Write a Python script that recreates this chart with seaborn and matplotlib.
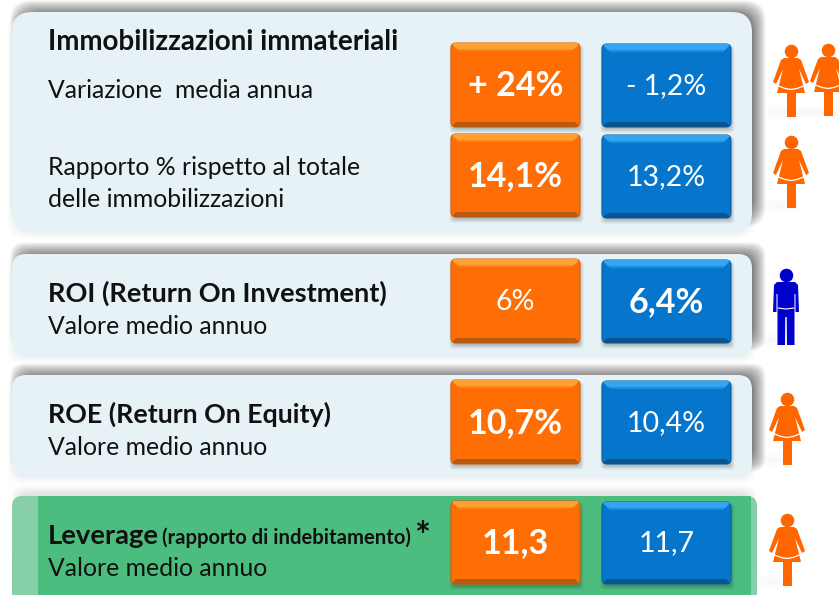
import numpy as np
import matplotlib
matplotlib.use('Agg')
import matplotlib.pyplot as plt
from matplotlib.patches import FancyBboxPatch, Polygon, Rectangle
import seaborn as sns

# Values
row_titles = ['Variazione  media annua', 'Rapporto % rispetto al totale\ndelle immobilizzazioni',
              'Valore medio annuo', 'Valore medio annuo', 'Valore medio annuo']
orange_labels = ['+ 24%', '14,1%', '6%', '10,7%', '11,3']
blue_labels = ['- 1,2%', '13,2%', '6,4%', '10,4%', '11,7']
orange_bold = [True, True, False, True, True]
blue_bold = [False, False, True, False, False]

ORANGE = '#FF6D05'
BLUE = '#0576CB'
PANEL = '#E6F2F5'
GREEN = '#4DBD7F'

sns.set_theme(style='white')
plt.rcParams['font.family'] = ['Lato', 'DejaVu Sans']

fig = plt.figure(figsize=(8.39, 5.95), dpi=100)
ax = fig.add_axes([0, 0, 1, 1])
ax.set_xlim(0, 839)
ax.set_ylim(595, 0)
ax.axis('off')


def soft_shadow(x0, y0, x1, y1, radius, blur=7, strength=0.055, z=1):
    for k in range(blur):
        pad = blur / 2 - k
        ax.add_patch(FancyBboxPatch((x0 - pad, y0 - pad), x1 - x0 + 2 * pad, y1 - y0 + 2 * pad,
                                    boxstyle=f'round,pad=0,rounding_size={radius}',
                                    fc='black', ec='none', alpha=strength, zorder=z))


def panel(x0, y0, x1, y1, radius=14, color=PANEL):
    soft_shadow(x0 + 6, y0 - 4, x1 + 6, y1 - 14, radius, blur=15, strength=0.042)
    soft_shadow(x0 - 2, y0 + 2, x1 + 1, y1 + 3, radius, blur=6, strength=0.008)
    ax.add_patch(FancyBboxPatch((x0, y0), x1 - x0, y1 - y0,
                                boxstyle=f'round,pad=0,rounding_size={radius}',
                                fc=color, ec='none', zorder=2))


def tile(x0, y0, x1, y1, label, bold, base, top, mid, bottom, side):
    soft_shadow(x0 + 1, y0 + 4, x1 + 1, y1 + 3, 4, blur=5, strength=0.05, z=3)
    body = FancyBboxPatch((x0, y0), x1 - x0, y1 - y0, boxstyle='round,pad=0,rounding_size=5',
                          fc=base, ec=side, lw=0.8, zorder=4)
    ax.add_patch(body)
    b = 6
    bevels = [
        Polygon([(x0, y0), (x1, y0), (x1 - b - 2, y0 + b + 2), (x0 + b + 2, y0 + b + 2)], fc=mid, ec='none', zorder=5),
        Polygon([(x0, y0), (x1, y0), (x1 - b, y0 + b), (x0 + b, y0 + b)], fc=top, ec='none', zorder=5),
        Polygon([(x0, y1), (x1, y1), (x1 - 5, y1 - 5), (x0 + 5, y1 - 5)], fc=bottom, ec='none', zorder=5),
    ]
    for bevel in bevels:
        ax.add_patch(bevel)
        bevel.set_clip_path(body)
    ax.text((x0 + x1) / 2, (y0 + y1) / 2 - 2, label, color='white', ha='center', va='center_baseline',
            fontsize=24.5 if bold else 20.5, fontweight='bold' if bold else 'normal', zorder=6)


def woman(cx, top, color='#FF6600'):
    s = lambda pts: [(cx + px, top + py) for px, py in pts]
    sns.scatterplot(x=[cx], y=[top + 6], s=95, color=color, linewidth=0, ax=ax, zorder=7, legend=False)
    # dress and arms
    ax.add_patch(Polygon(s([(-7, 13), (7, 13), (10, 15), (18, 37), (15, 39), (8, 24), (14, 48), (-14, 48), (-8, 24), (-15, 39), (-18, 37), (-10, 15)]),
                         fc=color, ec='none', zorder=7))
    ax.add_patch(Rectangle((cx - 4.5, top + 48), 9, 24, fc=color, ec='none', zorder=7))
    xs = np.array([-12.5, -6, 0, 6, 12.5])
    ys = np.array([41, 43.5, 44.5, 43.5, 41])
    ax.plot(cx + xs, top + ys, color='white', lw=0.9, zorder=8)


def man(cx, top, color='#0000CC'):
    s = lambda pts: [(cx + px, top + py) for px, py in pts]
    sns.scatterplot(x=[cx], y=[top + 6], s=95, color=color, linewidth=0, ax=ax, zorder=7, legend=False)
    ax.add_patch(Polygon(s([(-12, 16), (-9, 13), (9, 13), (12, 16), (13, 43), (9.5, 43), (9.5, 25), (8.5, 25), (8.5, 76), (1, 76), (0.7, 48), (-0.7, 48), (-1, 76), (-8.5, 76), (-8.5, 25), (-9.5, 25), (-9.5, 43), (-13, 43)]),
                         fc=color, ec='none', zorder=7))
    ax.plot([cx - 8, cx, cx + 8], [top + 39, top + 40, top + 39], color='white', lw=0.8, zorder=8)


def feet_shadow(x0, x1, y):
    for k in range(7):
        ax.add_patch(FancyBboxPatch((x0 + k * 2.5, y - 7 + k), x1 - x0 - 3 * k, 14 - 2 * k,
                                    boxstyle='round,pad=0,rounding_size=4',
                                    fc='black', ec='none', alpha=0.005, zorder=1))


# panels
panel(12, 12, 752, 233, radius=20)
panel(12, 254, 752, 357)
panel(12, 375, 752, 478)
soft_shadow(16, 490, 752, 560, 10, blur=9, strength=0.01)
ax.add_patch(FancyBboxPatch((12, 496), 745, 110, boxstyle='round,pad=0,rounding_size=10',
                            fc='#86CFA8', ec='none', zorder=2))
ax.add_patch(Rectangle((38, 496), 713, 110, fc=GREEN, ec='none', zorder=2))

# tiles
orange_y = [(43, 127), (134, 217), (259, 343), (380, 464), (501, 584)]
blue_y = [(44, 127), (135, 218), (260, 343), (381, 464), (502, 584)]
for i in range(5):
    tile(451, orange_y[i][0], 580, orange_y[i][1], orange_labels[i], orange_bold[i],
         ORANGE, '#FFA033', '#FF8418', '#B95A10', '#D86005')
    tile(602, blue_y[i][0], 731, blue_y[i][1], blue_labels[i], blue_bold[i],
         BLUE, '#35A5F2', '#1A8CDF', '#0A5590', '#0A62A6')

# text on the left
black = '#111111'
ax.text(48, 50, 'Immobilizzazioni immateriali', fontsize=20, fontweight='bold', color=black, zorder=6)
ax.text(48, 98, row_titles[0], fontsize=17.8, color=black, zorder=6)
ax.text(48, 175, row_titles[1].split('\n')[0], fontsize=17.8, color=black, zorder=6)
ax.text(48, 207, row_titles[1].split('\n')[1], fontsize=17.8, color=black, zorder=6)
ax.text(48, 302, 'ROI (Return On Investment)', fontsize=19.5, fontweight='bold', color=black, zorder=6)
ax.text(48, 334, row_titles[2], fontsize=17.8, color=black, zorder=6)
ax.text(48, 423, 'ROE (Return On Equity)', fontsize=19.3, fontweight='bold', color=black, zorder=6)
ax.text(48, 455, row_titles[3], fontsize=17.8, color=black, zorder=6)
ax.text(48, 544, 'Leverage', fontsize=19.7, fontweight='bold', color=black, zorder=6)
ax.text(162, 544, '(rapporto di indebitamento)', fontsize=14.6, fontweight='bold', color=black, zorder=6)
ax.text(414, 549, '*', fontsize=27, fontweight='bold', color=black, zorder=6)
ax.text(48, 576, row_titles[4], fontsize=17.8, color=black, zorder=6)

# people
feet_shadow(762, 839, 112)
feet_shadow(762, 800, 205)
feet_shadow(755, 790, 340)
feet_shadow(755, 790, 460)
feet_shadow(755, 790, 582)
woman(791, 45)
woman(828, 44)
woman(791, 136)
man(786, 269)
woman(787, 393)
woman(787, 514)

plt.savefig('out.png', dpi=100)
